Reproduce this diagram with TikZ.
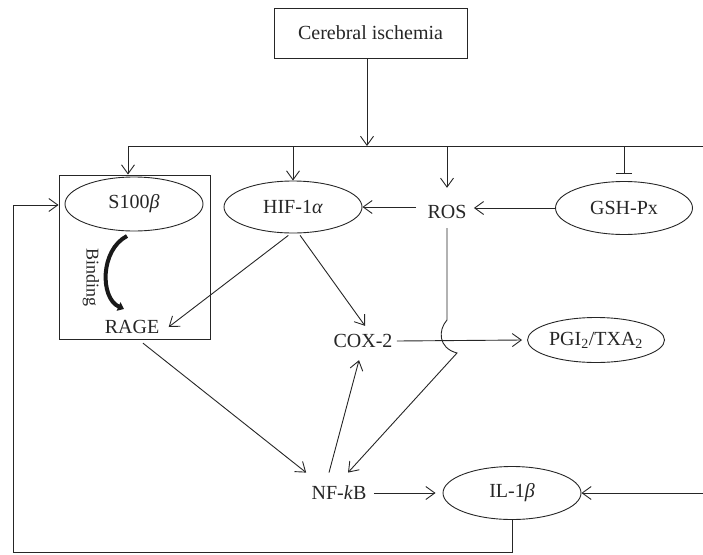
\documentclass[tikz,border=0pt]{standalone}
\usepackage{fontspec}
\setmainfont{Liberation Serif}
\usetikzlibrary{shapes.geometric,arrows.meta}
\begin{document}
\begin{tikzpicture}[x=1pt,y=-1pt,
  line width=0.9pt,
  every node/.style={text=black!85},
  arr/.style={draw=black!85,-{Straight Barb[length=9pt,width=13pt,line width=0.9pt]}},
  inh/.style={draw=black!85,-{Bar[width=16pt,line width=1.2pt]}},
  ln/.style={draw=black!85},
  ell/.style={ellipse,draw=black!85,inner sep=0pt,font=\fontsize{20}{24}\selectfont},
  txt/.style={inner sep=7pt,font=\fontsize{20}{24}\selectfont},
  ]
\useasboundingbox (0,0) rectangle (703,554);
% nodes
\node[draw=black!85,minimum width=193pt,minimum height=50pt,inner sep=0pt,font=\fontsize{20}{24}\selectfont] (cer) at (370.5,33) {Cerebral ischemia};
\node[draw=black!85,minimum width=151pt,minimum height=164pt,inner sep=0pt] (sbox) at (134.5,257) {};
\node[ell,minimum width=138pt,minimum height=54pt] (s100) at (134,204) {S100\textit{β}};
\node[ell,minimum width=138pt,minimum height=52pt] (hif) at (293,207) {HIF-1\textit{α}};
\node[ell,minimum width=137pt,minimum height=53pt] (gsh) at (624,208) {GSH-Px};
\node[ell,minimum width=137pt,minimum height=45pt] (pgi) at (596,340) {PGI\textsubscript{2}/TXA\textsubscript{2}};
\node[ell,minimum width=138pt,minimum height=53pt] (il) at (512,493) {IL-1\textit{β}};
\node[txt] (ros) at (447,212) {ROS};
\node[txt,inner sep=4pt] (cox) at (363,341) {COX-2};
\node[txt] (nf) at (339,493) {NF-\textit{k}B};
\node[txt,inner sep=5pt] (rage) at (132,327) {RAGE};
\node[rotate=-90,font=\fontsize{18}{22}\selectfont] (bind) at (91,277) {Binding};
% junctions
\coordinate (top) at (367,146);
\coordinate (j1) at (128,146);
\coordinate (j2) at (293,146);
\coordinate (j3) at (447,146);
\coordinate (j4) at (624,146);
\coordinate (jr) at (703,146);
\coordinate (ilr) at (703,493);
\coordinate (bl) at (13,552);
\coordinate (tl) at (13,205);
\coordinate (b1) at (127,236);
\coordinate (b2) at (124,309);
\coordinate (h1) at (447,320);
\coordinate (h2) at (457,353);
% connectors
\draw[arr] (cer.south -| top) -- (top);
\draw[ln] (j1) -- (jr);
\draw[arr] (j1) -- (j1 |- sbox.north);
\draw[arr] (j2) -- (hif.north);
\draw[arr] (j3) -- ([yshift=10pt]ros.north);
\draw[inh] (j4) -- ([yshift=7pt]gsh.north);
\draw[arr] (gsh.west) -- (gsh.west -| ros.east);
\draw[arr] ([xshift=-4pt]ros.west |- hif.east) -- (hif.east);
\draw[arr] ([yshift=-2pt]hif.260) -- ([xshift=4pt]rage.east);
\draw[arr] ([yshift=-2pt]hif.285) -- ([xshift=2pt,yshift=4pt]cox.north);
\draw[arr] (cox.east) -- ([xshift=-5pt]pgi.west);
\draw[arr] ([xshift=11pt,yshift=-4pt]rage.south) -- ([xshift=2pt,yshift=6pt]nf.north west);
\draw[arr] ([xshift=-10pt,yshift=6pt]nf.north) -- ([xshift=-4pt,yshift=-8pt]cox.south);
\draw[arr] ([yshift=-2pt]ros.south) -- (h1) .. controls (438,330) and (438,348) .. (h2) -- ([xshift=9pt,yshift=6pt]nf.north);
\draw[arr] (nf.east) -- ([xshift=-7pt]il.west);
\draw[arr] (ilr) -- (il.east);
\draw[arr] (il.south) -- (il.south |- bl) -- (bl) -- (tl) -- (sbox.west |- tl);
\draw[draw=black!90,line width=4pt,-{Triangle[length=6pt,width=9pt]}] (b1) .. controls (100,250) and (100,298) .. (b2);
\end{tikzpicture}
\end{document}
